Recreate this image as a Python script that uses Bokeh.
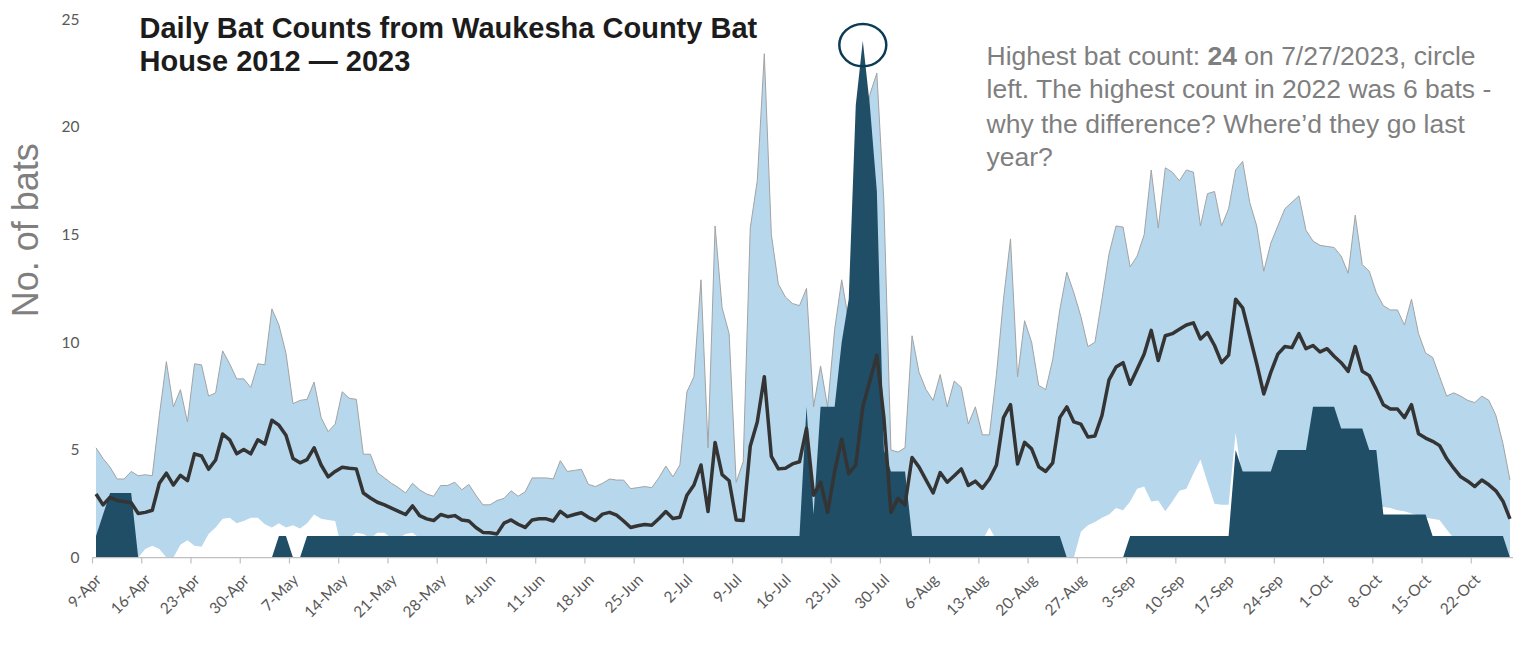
import numpy as np
from bokeh.plotting import figure
from bokeh.models import Range1d, FixedTicker, Label
from bokeh.core.properties import value
from bokeh.embed import file_html
from bokeh.resources import INLINE

# ---------------- data (one value per day, 9-Apr .. 27-Oct) ----------------
tick_labels = ["9-Apr", "16-Apr", "23-Apr", "30-Apr", "7-May", "14-May", "21-May",
               "28-May", "4-Jun", "11-Jun", "18-Jun", "25-Jun", "2-Jul", "9-Jul",
               "16-Jul", "23-Jul", "30-Jul", "6-Aug", "13-Aug", "20-Aug", "27-Aug",
               "3-Sep", "10-Sep", "17-Sep", "24-Sep", "1-Oct", "8-Oct", "15-Oct", "22-Oct"]
y_ticks = [0, 5, 10, 15, 20, 25]

max_count = [
    5.1, 4.6, 4.2, 3.65, 3.65, 4.0, 3.8, 3.85, 3.8, 6.6,
    9.1, 7.0, 7.8, 6.3, 9.0, 8.95, 7.5, 7.65, 9.6, 9.0,
    8.3, 8.3, 7.9, 9.0, 8.95, 11.55, 10.8, 9.5, 7.15, 7.3,
    7.35, 8.15, 6.5, 5.85, 6.2, 7.7, 7.4, 7.35, 4.8, 4.8,
    3.95, 3.7, 3.45, 3.25, 3.0, 3.45, 3.15, 2.95, 2.85, 3.35,
    3.35, 3.5, 3.15, 3.4, 2.9, 2.45, 2.45, 2.65, 2.75, 3.1,
    2.85, 3.05, 3.7, 3.7, 3.7, 3.65, 4.5, 4.0, 4.05, 4.1,
    3.4, 3.3, 3.45, 3.65, 3.6, 3.6, 3.2, 3.25, 3.3, 3.25,
    3.7, 4.25, 3.75, 4.3, 7.7, 8.4, 12.9, 5.1, 15.4, 11.6,
    10.4, 3.5, 4.45, 15.3, 17.5, 23.4, 15.0, 12.7, 12.1, 11.8,
    11.7, 12.5, 7.0, 8.9, 7.0, 10.6, 12.9, 11.0, 15.0, 19.0,
    21.5, 22.5, 16.5, 5.0, 4.9, 5.1, 10.3, 8.6, 7.8, 7.3,
    8.5, 7.0, 8.2, 7.9, 6.2, 7.0, 5.7, 5.7, 8.5, 12.0,
    14.8, 8.4, 11.0, 10.0, 8.0, 7.8, 9.2, 11.5, 13.25, 12.3,
    11.2, 9.8, 10.0, 12.0, 14.1, 15.4, 15.35, 13.5, 14.0, 15.0,
    18.0, 15.3, 18.1, 17.9, 17.5, 18.0, 17.9, 15.4, 16.9, 17.0,
    15.4, 16.2, 18.0, 18.4, 16.5, 15.4, 13.3, 14.6, 15.4, 16.2,
    16.5, 16.8, 15.2, 14.7, 14.5, 14.45, 14.4, 14.0, 13.2, 15.9,
    13.6, 13.3, 12.3, 11.7, 11.5, 11.5, 10.8, 12.0, 10.4, 9.5,
    9.3, 8.4, 7.5, 7.65, 7.5, 7.3, 7.2, 7.5, 7.3, 6.6,
    5.3, 3.6]

min_count = [
    0.5, 0.3, 0, 0, 0, 0, 0, 0.4, 0.55, 0.4,
    0, 0, 0.6, 0.8, 0.55, 0.5, 1.1, 1.4, 1.8, 1.85,
    1.6, 1.7, 1.85, 1.85, 1.55, 1.4, 1.6, 1.4, 1.5, 1.35,
    1.6, 2.0, 1.8, 1.75, 1.7, 0.3, 0.9, 1.15, 1.1, 0.9,
    1.15, 1.15, 0.9, 0.9, 1.1, 1.15, 0.9, 0.8, 0.8, 0.7,
    0.8, 0.7, 0.6, 0.7, 0.6, 0.5, 0.5, 0.6, 0.7, 0.7,
    0.7, 0.8, 0.8, 0.8, 0.8, 0.8, 0.9, 0.8, 0.8, 0.8,
    0.7, 0.7, 0.8, 0.8, 0.7, 0.7, 0.6, 0.6, 0.6, 0.6,
    0.7, 0.8, 0.7, 0.7, 0.9, 0.9, 0.9, 0.6, 0.9, 0.9,
    0.9, 0.6, 0.6, 0.9, 0.9, 0.9, 0.9, 0.9, 0.9, 0.9,
    0.9, 0.9, 0.9, 0.9, 0.9, 0.9, 0.9, 0.9, 0.9, 0.9,
    0.9, 0.9, 0.9, 0.9, 0.9, 0.9, 0.9, 0.9, 0.9, 0.9,
    0.8, 0.8, 0.8, 0.8, 0.8, 0.8, 0.8, 1.4, 0.8, 0.8,
    0.8, 0.8, 0.8, 0.7, 0.7, 0.6, 0.6, 0.5, 0, 0,
    1.2, 1.5, 1.65, 1.85, 2.0, 2.3, 2.2, 2.6, 3.2, 3.3,
    2.6, 2.65, 2.15, 2.6, 3.1, 3.2, 3.9, 4.55, 3.5, 2.5,
    2.45, 2.45, 5.8, 3.5, 3.3, 3.0, 2.8, 2.8, 2.9, 3.0,
    3.0, 2.9, 2.8, 2.9, 3.0, 2.8, 2.7, 2.6, 2.5, 2.5,
    2.5, 2.4, 2.4, 2.35, 2.3, 2.2, 2.15, 2.05, 1.95, 1.85,
    1.8, 1.75, 1.3, 0.9, 0.8, 0.8, 0.7, 0.7, 0.6, 0.5,
    0.4, 0]

avg_count = [
    2.95, 2.45, 2.8, 2.65, 2.6, 2.55, 2.05, 2.1, 2.2, 3.45,
    3.92, 3.37, 3.82, 3.57, 4.82, 4.72, 4.1, 4.53, 5.74, 5.47,
    4.82, 5.02, 4.82, 5.47, 5.27, 6.38, 6.15, 5.68, 4.6, 4.4,
    4.55, 5.1, 4.3, 3.75, 4.0, 4.2, 4.15, 4.12, 3.0, 2.77,
    2.57, 2.45, 2.3, 2.15, 2.0, 2.4, 1.95, 1.8, 1.72, 2.0,
    1.9, 1.95, 1.75, 1.7, 1.4, 1.17, 1.15, 1.1, 1.6, 1.75,
    1.55, 1.4, 1.75, 1.8, 1.8, 1.7, 2.15, 1.9, 2.0, 2.08,
    1.87, 1.72, 2.02, 2.1, 1.97, 1.7, 1.4, 1.48, 1.54, 1.5,
    1.8, 2.14, 1.82, 1.87, 2.9, 3.37, 4.3, 2.14, 5.35, 3.85,
    3.57, 1.75, 1.72, 5.17, 6.3, 8.4, 4.7, 4.12, 4.15, 4.35,
    4.45, 6.0, 2.9, 3.5, 2.1, 4.0, 5.5, 3.9, 4.3, 7.0,
    8.2, 9.4, 6.5, 2.1, 2.75, 2.45, 4.65, 4.2, 3.6, 3.0,
    3.95, 3.5, 3.8, 4.12, 3.35, 3.55, 3.22, 3.65, 4.3, 6.5,
    7.1, 4.35, 5.35, 5.05, 4.22, 4.0, 4.4, 6.5, 7.0, 6.3,
    6.2, 5.6, 5.65, 6.6, 8.25, 8.85, 9.05, 8.05, 8.75, 9.45,
    10.55, 9.15, 10.3, 10.4, 10.6, 10.8, 10.9, 10.15, 10.45, 9.85,
    9.05, 9.4, 12.0, 11.6, 10.3, 9.0, 7.6, 8.6, 9.45, 9.8,
    9.75, 10.4, 9.7, 9.85, 9.55, 9.7, 9.35, 9.05, 8.65, 9.8,
    8.65, 8.45, 7.8, 7.1, 6.9, 6.9, 6.5, 7.1, 5.75, 5.55,
    5.4, 5.2, 4.6, 4.15, 3.75, 3.55, 3.3, 3.6, 3.38, 3.1,
    2.62, 1.8]

count_2023 = (
    [1, 2, 3, 3, 3, 3] + [0] * 20 + [1, 1, 0, 0] + [1] * 71 +
    [7, 2, 7, 7, 7, 10, 12, 21, 24, 21, 17, 5, 4, 4, 4] +
    [1] * 22 + [0] * 9 + [1] * 15 +
    [5] + [4] * 5 + [5] * 5 + [7] * 4 + [6] * 4 + [5] * 2 + [2] * 7 + [1] * 11 + [0])

n = len(count_2023)
x = np.arange(n) + 0.5

# ---------------- layout geometry (canvas pixels) ----------------
W, H = 1513, 629
LEFT0 = 92          # canvas x of the first day boundary
Y0 = 565            # canvas y of value 0
Y25 = 19            # canvas y of value 25
FRAME_B = 572       # canvas y of the frame bottom
px_day = (W - LEFT0) / n
unit = (Y0 - Y25) / 25.0
x_range = Range1d(-LEFT0 / px_day, n)
y_range = Range1d(-(FRAME_B - Y0) / unit, 25 + Y25 / unit)

# canvas pixel -> data helpers for free text placement
def cx(px):
    return (px - LEFT0) / px_day

def cy(py):
    return (Y0 - py) / unit

def dx(pixels):
    return pixels / px_day

p = figure(width=W, height=H, x_range=x_range, y_range=y_range,
           output_backend="svg", toolbar_location=None, y_axis_location=None,
           min_border_left=0, min_border_right=0, min_border_top=0,
           min_border_bottom=H - FRAME_B)
p.background_fill_color = "white"
p.border_fill_color = "white"
p.outline_line_color = None
p.xgrid.visible = False
p.ygrid.visible = False

# ---------------- marks ----------------
p.varea(x=x, y1=min_count, y2=max_count, fill_color="#b6d7ec")
p.line(x, max_count, line_color="#a3a3a3", line_width=1)
p.varea(x=x, y1=0, y2=count_2023, fill_color="#1f4e66")
p.line(x, avg_count, line_color="#343434", line_width=3.5, line_join="round")

peak = int(np.argmax(count_2023))
p.ellipse(x=[x[peak]], y=[count_2023[peak] - 0.2], width=dx(47), height=43 / unit,
          fill_color=None, line_color="#0b3b55", line_width=2.5)

# axis line and tick marks (under the data only)
tick_pos = [7 * k for k in range(len(tick_labels))]
p.segment(x0=[0], y0=[0], x1=[n], y1=[0], line_color="#bfbfbf", line_width=1.2)
p.segment(x0=tick_pos, y0=[0] * len(tick_pos), x1=tick_pos, y1=[-6 / unit] * len(tick_pos),
          line_color="#bfbfbf", line_width=1.2)

# x labels
label_shift = 0.8
lab_ticks = [t + label_shift for t in tick_pos]
ax = p.xaxis[0]
ax.ticker = FixedTicker(ticks=lab_ticks)
ax.major_label_overrides = {t: lab for t, lab in zip(lab_ticks, tick_labels)}
ax.axis_line_color = None
ax.major_tick_line_color = None
ax.minor_tick_line_color = None
ax.major_tick_out = 0
ax.major_tick_in = 0
ax.major_label_orientation = np.pi / 4
ax.major_label_standoff = 12
ax.major_label_text_font = "Lato"
ax.major_label_text_font_size = "15.5px"
ax.major_label_text_color = "#595959"

# y tick labels
p.text(x=[cx(79)] * len(y_ticks), y=y_ticks, text=[str(t) for t in y_ticks],
       text_align="right", text_baseline="middle", text_font=value("Lato"),
       text_font_size="15.5px", text_color="#595959")

# ---------------- texts ----------------
p.add_layout(Label(x=cx(25), y=cy(233), text="No. of bats", angle=np.pi / 2,
                   text_align="center", text_baseline="middle",
                   text_font="Liberation Sans", text_font_size="36px", text_color="#7f7f7f"))

for txt, py in [("Daily Bat Counts from Waukesha County Bat", 28),
                ("House 2012 \u2014 2023", 61)]:
    p.add_layout(Label(x=cx(139), y=cy(py), text=txt, text_align="left",
                       text_baseline="alphabetic", text_font="Liberation Sans",
                       text_font_style="bold", text_font_size="29px", text_color="#1c1c1c"))

fs = 26.5
note_style = dict(text_align="left", text_baseline="alphabetic", text_font="Liberation Sans",
                  text_font_size=f"{fs}px", text_color="#7f7f7f")
x_note = cx(986)
x_24 = x_note + dx(8.338 * fs)
x_on = x_24 + dx((1.112 + 0.278) * fs)
p.add_layout(Label(x=x_note, y=cy(56), text="Highest bat count:", **note_style))
p.add_layout(Label(x=x_24, y=cy(56), text="24", text_font_style="bold", **note_style))
p.add_layout(Label(x=x_on, y=cy(56), text="on 7/27/2023, circle", **note_style))
for txt, py in [("left. The highest count in 2022 was 6 bats -", 90),
                ("why the difference? Where\u2019d they go last", 125),
                ("year?", 159)]:
    p.add_layout(Label(x=x_note, y=cy(py), text=txt, **note_style))

open("out.html", "w").write(file_html(p, INLINE))
